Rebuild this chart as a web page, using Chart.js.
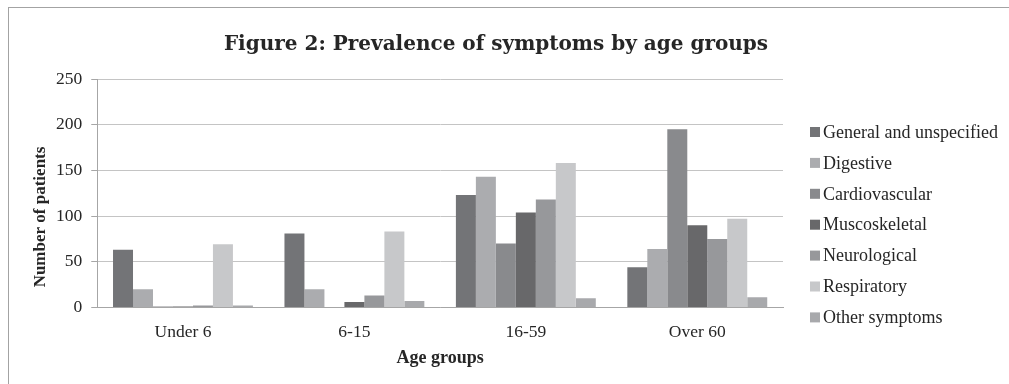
<!DOCTYPE html>
<html>
<head>
<meta charset="utf-8">
<script src="https://cdn.jsdelivr.net/npm/chart.js@4/dist/chart.umd.min.js"></script>
<style>
  html, body { margin: 0; padding: 0; background: #fff; overflow: hidden; }
  #wrap { position: relative; width: 1009px; height: 384px; }
  #frame { position: absolute; left: 8px; top: 7px; width: 1200px; height: 600px; border: 1px solid #a3a3a3; pointer-events: none; }
</style>
</head>
<body>
<div id="wrap">
  <canvas id="chart" width="1009" height="384"></canvas>
  <div id="frame"></div>
</div>
<script>
const ageGroups = ['Under 6', '6-15', '16-59', 'Over 60'];
const seriesNames = ['General and unspecified', 'Digestive', 'Cardiovascular', 'Muscoskeletal', 'Neurological', 'Respiratory', 'Other symptoms'];
const general = [63, 81, 123, 44];
const digestive = [20, 20, 143, 64];
const cardiovascular = [1, 0, 70, 195];
const muscoskeletal = [1, 6, 104, 90];
const neurological = [2, 13, 118, 75];
const respiratory = [69, 83, 158, 97];
const otherSymptoms = [2, 7, 10, 11];
const yTicks = [0, 50, 100, 150, 200, 250];

const seriesData = [general, digestive, cardiovascular, muscoskeletal, neurological, respiratory, otherSymptoms];
const seriesColors = ['#737477', '#abacaf', '#898a8d', '#68686a', '#97989b', '#c7c8ca', '#a8a9ac'];

const chartTitle = 'Figure 2: Prevalence of symptoms by age groups';
const yTitle = 'Number of patients';
const serif = "'Liberation Serif', 'Times New Roman', serif";
const textColor = '#262626';

// title, y axis title and the right-hand legend, placed the way Excel put them
const decorations = {
  id: 'decorations',
  afterDraw(chart) {
    const ctx = chart.ctx;
    ctx.save();
    ctx.fillStyle = textColor;
    ctx.textAlign = 'center';
    ctx.textBaseline = 'middle';
    ctx.font = "bold 20px 'DejaVu Serif', serif";
    ctx.fillText(chartTitle, 496, 45);

    ctx.save();
    ctx.translate(41, 217);
    ctx.rotate(-Math.PI / 2);
    ctx.font = 'bold 17px ' + serif;
    ctx.fillText(yTitle, 0, 0);
    ctx.restore();

    const x = chart.chartArea.right + 27;
    let y = 132;
    ctx.font = '18px ' + serif;
    ctx.textAlign = 'left';
    chart.data.datasets.forEach((ds) => {
      ctx.fillStyle = ds.backgroundColor;
      ctx.fillRect(x, y - 5, 10, 10);
      ctx.fillStyle = textColor;
      ctx.fillText(ds.label, x + 13, y + 1);
      y += 30.9;
    });
    ctx.restore();
  }
};

new Chart(document.getElementById('chart'), {
  type: 'bar',
  data: {
    labels: ageGroups,
    datasets: seriesNames.map((name, i) => ({
      label: name,
      data: seriesData[i],
      backgroundColor: seriesColors[i],
      borderWidth: 0,
      categoryPercentage: 0.816,
      barPercentage: 1
    }))
  },
  options: {
    responsive: false,
    animation: false,
    layout: { padding: { left: 47, right: 226, top: 79, bottom: 15 } },
    plugins: {
      legend: { display: false },
      tooltip: { enabled: false },
      title: { display: false }
    },
    scales: {
      x: {
        grid: { display: false },
        border: { display: true, color: '#a6a6a6', width: 1 },
        ticks: { color: textColor, font: { family: serif, size: 17.5 }, padding: 7 },
        title: { display: true, text: 'Age groups', color: textColor, font: { family: serif, size: 18, weight: 'bold' }, padding: { top: -3, bottom: 0 } }
      },
      y: {
        min: 0,
        max: 250,
        afterBuildTicks: (axis) => { axis.ticks = yTicks.map((v) => ({ value: v })); },
        grid: { color: '#c4c4c4', lineWidth: 1, drawTicks: true, tickLength: 6, tickColor: '#a6a6a6' },
        border: { display: true, color: '#a6a6a6', width: 1 },
        ticks: { color: textColor, font: { family: serif, size: 17.5 }, padding: 9 }
      }
    }
  },
  plugins: [decorations]
});
</script>
</body>
</html>
